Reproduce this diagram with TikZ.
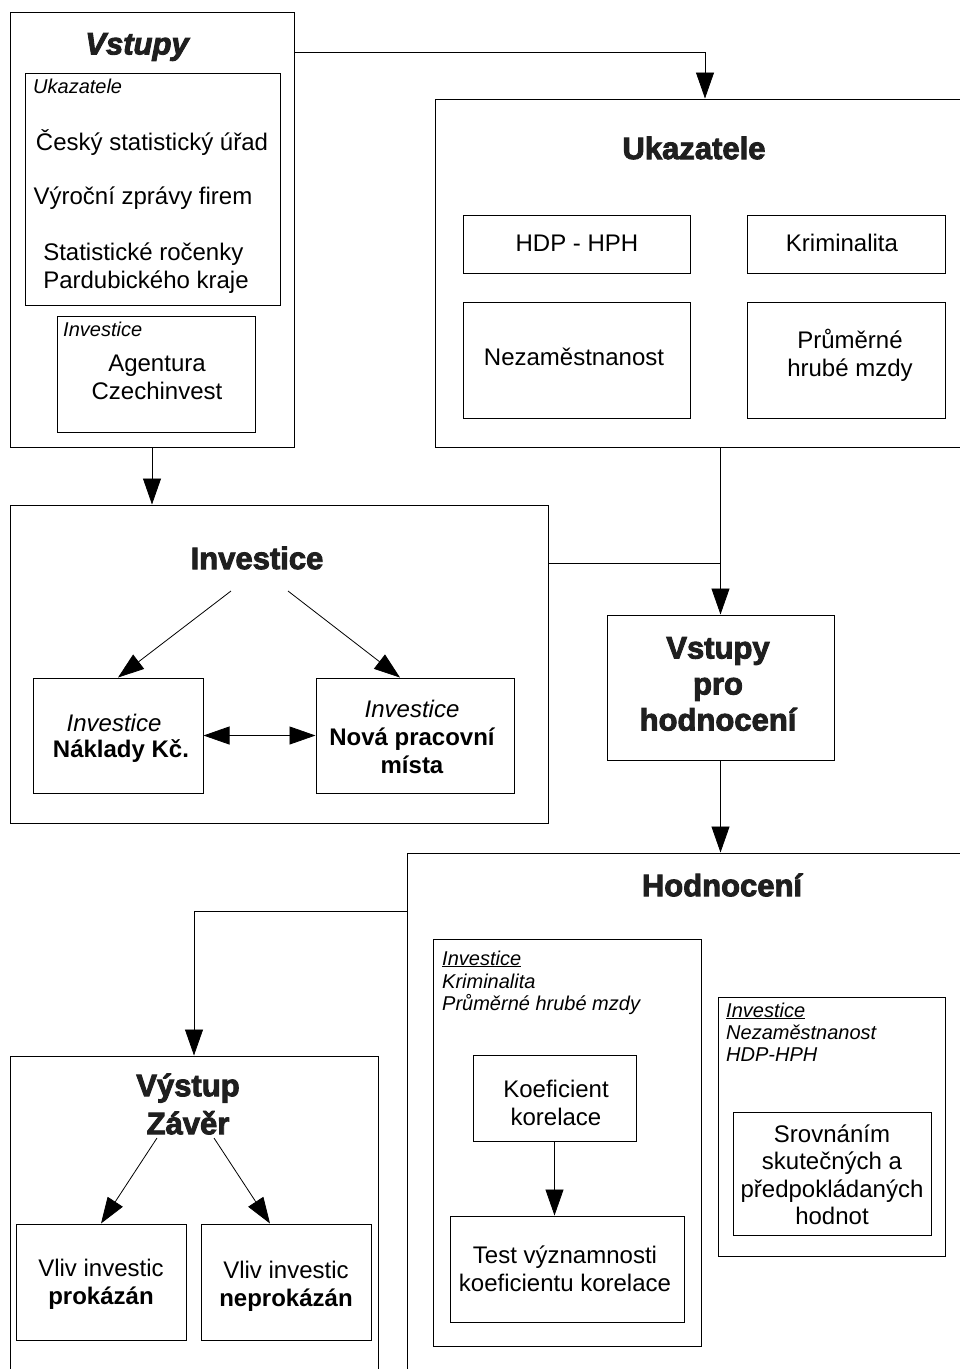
\documentclass[tikz,border=0pt]{standalone}
\usepackage{fontspec}
\setmainfont{Liberation Sans}
\usetikzlibrary{arrows.meta,calc,fit}
% heavier title lettering: fill and stroke the glyphs
\newcommand\heavytext[1]{\special{pdf:literal 2 Tr 0.9 w}#1\special{pdf:literal 0 Tr}}
\begin{document}
\begin{tikzpicture}[x=1pt,y=-1pt,
  box/.style={draw=black,line width=1pt,rectangle,inner sep=0pt},
  conn/.style={draw=black,line width=0.8pt},
  arr/.style={conn,-{Triangle[length=26pt,width=18pt]}},
  darr/.style={conn,{Triangle[length=26pt,width=18pt]}-{Triangle[length=26pt,width=18pt]}},
  body/.style={font=\fontsize{24}{28}\selectfont,align=center,inner sep=0pt},
  ttl/.style={font=\fontsize{31}{37}\selectfont\bfseries,align=center,inner sep=0pt,text=black!88},
  lbl/.style={font=\fontsize{20}{23}\selectfont\itshape,anchor=base west,inner sep=0pt},
]
\clip (0,0) rectangle (960,1369);
\fill[white] (0,0) rectangle (960,1369);

% --- boxes ---
\node[box,fit={(10,12) (294,447)}] (vst) {};
\node[box,fit={(25,73) (280,305)}] (vstu) {};
\node[box,fit={(57,316) (255,432)}] (vsti) {};

\node[box,fit={(435,99) (975,447)}] (ukz) {};
\node[box,fit={(463,215) (690,273)}] (hdp) {};
\node[box,fit={(747,215) (945,273)}] (krim) {};
\node[box,fit={(463,302) (690,418)}] (nez) {};
\node[box,fit={(747,302) (945,418)}] (mzdy) {};

\node[box,fit={(10,505) (548,823)}] (inv) {};
\node[box,fit={(33,678) (203,793)}] (nak) {};
\node[box,fit={(316,678) (514,793)}] (nova) {};

\node[box,fit={(607,615) (834,760)}] (vph) {};

\node[box,fit={(407,853) (985,1400)}] (hod) {};
\node[box,fit={(433,939) (701,1346)}] (hodl) {};
\node[box,fit={(473,1055) (636,1141)}] (koef) {};
\node[box,fit={(450,1216) (684,1322)}] (test) {};
\node[box,fit={(718,997) (945,1256)}] (hodr) {};
\node[box,fit={(733,1112) (931,1235)}] (srov) {};

\node[box,fit={(10,1056) (378,1400)}] (vys) {};
\node[box,fit={(16,1224) (186,1340)}] (prok) {};
\node[box,fit={(201,1224) (371,1340)}] (neprok) {};

% --- texts: inputs ---
\node[ttl,font=\fontsize{31}{37}\selectfont\bfseries\itshape] (tvst) at (137,47) {\heavytext{Vstupy}};
\node[lbl] (lukz) at (33,93) {Ukazatele};
\node[body] (tcsu) at (152,142) {Český statistický úřad};
\node[body] (tvz) at (143,198) {Výroční zprávy firem};
\node[body,align=left] (tsr) at (146,268) {Statistické ročenky\\Pardubického kraje};
\node[lbl] (linv) at (63,336) {Investice};
\node[body] (tagc) at (157,377) {Agentura\\Czechinvest};

% --- texts: indicators ---
\node[ttl] (tukz) at (694,148) {\heavytext{Ukazatele}};
\node[body] (thdp) at (577,243) {HDP - HPH};
\node[body] (tkrim) at (842,243) {Kriminalita};
\node[body] (tnez) at (574,357) {Nezaměstnanost};
\node[body] (tmzdy) at (850,355) {Průměrné\\hrubé mzdy};

% --- texts: investments ---
\node[ttl] (tinv) at (257,558) {\heavytext{Investice}};
\node[body,font=\fontsize{24}{28}\selectfont\itshape] (tnak1) at (114,723) {Investice};
\node[body,font=\fontsize{24}{28}\selectfont\bfseries] (tnak2) at (121,751) {Náklady Kč.};
\node[body] (tnova) at (412,737) {{\itshape Investice}\\{\bfseries Nová pracovní}\\{\bfseries místa}};

% --- texts: evaluation inputs ---
\node[ttl,font=\fontsize{31}{36}\selectfont\bfseries] (tvph) at (718,684) {\heavytext{Vstupy}\\\heavytext{pro}\\\heavytext{hodnocení}};

% --- texts: evaluation ---
\node[ttl] (thod) at (722,885) {\heavytext{Hodnocení}};
\node[lbl] (lh1) at (442,965) {\underline{Investice}};
\node[lbl] (lh2) at (442,988) {Kriminalita};
\node[lbl] (lh3) at (442,1010) {Průměrné hrubé mzdy};
\node[body] (tkoef) at (556,1103) {Koeficient\\korelace};
\node[body] (ttest) at (565,1269) {Test významnosti\\koeficientu korelace};
\node[lbl] (lr1) at (726,1017) {\underline{Investice}};
\node[lbl] (lr2) at (726,1039) {Nezaměstnanost};
\node[lbl] (lr3) at (726,1061) {HDP-HPH};
\node[body,font=\fontsize{24}{27.5}\selectfont] (tsrov) at (832,1175) {Srovnáním\\skutečných a\\předpokládaných\\hodnot};

% --- texts: output ---
\node[ttl,font=\fontsize{31}{38}\selectfont\bfseries] (tvys) at (188,1104) {\heavytext{Výstup}\\\heavytext{Závěr}};
\node[body] (tprok) at (101,1284) {Vliv investic\\{\bfseries prokázán}};
\node[body] (tneprok) at (286,1286) {Vliv investic\\{\bfseries neprokázán}};

% --- connectors ---
\coordinate (vstout) at (294,52);
\draw[arr] (vstout) -| (ukz.north);
\draw[arr] (vst.south) -- (vst.south |- inv.north);
\draw[arr] (vph.north |- ukz.south) -- (vph.north);
\coordinate (invout) at (548,563);
\draw[conn] (invout) -- (invout -| vph.north);
\draw[arr] (vph.south) -- (vph.south |- hod.north);
\coordinate (hodout) at (407,911);
\draw[arr] (hodout) -| (vys.north);

\coordinate (ia) at (231,591);
\coordinate (ib) at (288,591);
\draw[arr] (ia) -- (nak.north);
\draw[arr] (ib) -- ($(nova.north)+(-15,0)$);
\draw[darr] (nak.east) -- (nova.west);

\draw[arr] (koef.south) -- (koef.south |- test.north);

\coordinate (va) at (157,1138);
\coordinate (vb) at (214,1138);
\draw[arr] (va) -- (prok.north);
\draw[arr] (vb) -- ($(neprok.north)+(-16,0)$);
\end{tikzpicture}
\end{document}
